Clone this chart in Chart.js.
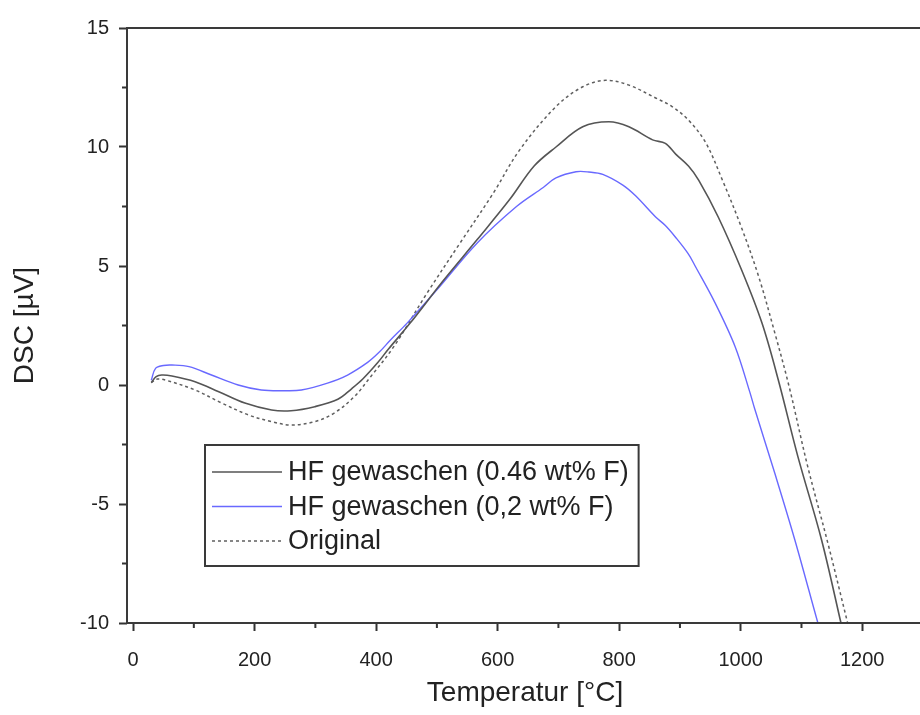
<!DOCTYPE html>
<html>
<head>
<meta charset="utf-8">
<script src="https://cdn.jsdelivr.net/npm/chart.js@4.4.1/dist/chart.umd.min.js"></script>
<style>
html, body { margin: 0; padding: 0; background: #fff; overflow: hidden; }
#wrap { width: 940px; height: 715px; }
</style>
</head>
<body>
<div id="wrap"><canvas id="myChart" width="940" height="715"></canvas></div>
<script>
// temperatures (°C) and DSC signal (µV)
let tBlack = [30, 38, 47, 64, 102, 141, 184, 228, 260, 299, 337, 360, 378, 402, 420, 456, 511, 566, 620, 660, 696, 740, 783, 816, 855, 876, 893, 914, 931, 963, 1002, 1035, 1062, 1094, 1133, 1165, 1172];
let dBlack = [0.1, 0.35, 0.42, 0.38, 0.14, -0.28, -0.76, -1.05, -1.08, -0.91, -0.6, -0.15, 0.25, 0.92, 1.5, 2.6, 4.4, 6.1, 7.8, 9.2, 10.0, 10.85, 11.06, 10.85, 10.3, 10.15, 9.7, 9.2, 8.6, 7.06, 4.8, 2.6, 0.2, -3.0, -6.5, -10, -10.8];

let tBlue = [30, 37, 50, 64, 92, 129, 173, 211, 250, 277, 320, 353, 386, 404, 424, 451, 500, 566, 631, 675, 696, 729, 750, 773, 806, 827, 860, 876, 893, 914, 925, 958, 991, 1015, 1023, 1056, 1089, 1127, 1135];
let dBlue = [0.2, 0.7, 0.82, 0.84, 0.77, 0.42, 0.0, -0.21, -0.24, -0.21, 0.08, 0.42, 0.95, 1.35, 1.9, 2.6, 4.0, 5.96, 7.5, 8.3, 8.7, 8.96, 8.95, 8.85, 8.4, 7.95, 7.06, 6.7, 6.2, 5.5, 5.0, 3.44, 1.6, -0.3, -1.0, -3.7, -6.5, -10, -10.7];

let tOrig = [30, 40, 53, 102, 146, 190, 228, 260, 299, 331, 364, 391, 429, 484, 538, 593, 636, 696, 740, 778, 816, 860, 887, 914, 942, 970, 1000, 1029, 1056, 1080, 1110, 1143, 1176, 1185];
let dOrig = [0.1, 0.25, 0.21, -0.21, -0.76, -1.26, -1.54, -1.68, -1.54, -1.18, -0.49, 0.35, 1.61, 3.87, 5.96, 8.07, 9.87, 11.7, 12.53, 12.8, 12.6, 12.06, 11.7, 11.13, 10.2, 8.6, 6.7, 4.6, 2.2, -0.1, -3.4, -6.6, -10, -10.9];

let seriesNames = ["HF gewaschen (0.46 wt% F)", "HF gewaschen (0,2 wt% F)", "Original"];

let xTicks = [0, 100, 200, 300, 400, 500, 600, 700, 800, 900, 1000, 1100, 1200, 1300];
let yTicks = [-10, -7.5, -5, -2.5, 0, 2.5, 5, 7.5, 10, 12.5, 15];

var fontFam = "'Liberation Sans', Arial, sans-serif";
var axisColor = "#333";

function toPoints(xs, ys) {
  let pts = [];
  for (var i = 0; i < xs.length; i++) {
    pts.push({ x: xs[i], y: ys[i] });
  }
  return pts;
}

function isMajorX(v) { return v % 200 == 0; }
function isMajorY(v) { return v % 5 == 0; }

// frame round the plot area + short minor ticks
var framePlugin = {
  id: "frame",
  afterDatasetsDraw(chart) {
    let a = chart.chartArea;
    let c = chart.ctx;
    c.save();
    c.strokeStyle = "#3a3a3a";
    c.lineWidth = 2;
    c.strokeRect(a.left, a.top, a.right - a.left, a.bottom - a.top);
    c.strokeStyle = axisColor;
    c.beginPath();
    xTicks.filter(v => !isMajorX(v)).forEach(v => {
      let px = chart.scales.x.getPixelForValue(v);
      c.moveTo(px, a.bottom);
      c.lineTo(px, a.bottom + 5);
    });
    yTicks.filter(v => !isMajorY(v)).forEach(v => {
      let py = chart.scales.y.getPixelForValue(v);
      c.moveTo(a.left, py);
      c.lineTo(a.left - 5, py);
    });
    c.stroke();
    c.restore();
  }
};

// boxed legend inside the plot, like the Origin one
var legendBox = {
  id: "legendBox",
  afterDraw(chart) {
    let c = chart.ctx;
    let sets = chart.data.datasets;
    let left = 205, top = 445, rowH = 34.5, firstRow = 472;
    let lineX0 = 212, lineX1 = 282, textX = 288;
    c.save();
    c.font = "27px " + fontFam;
    let maxW = 0;
    sets.forEach(d => { maxW = Math.max(maxW, c.measureText(d.label).width); });
    let w = textX - left + maxW + 10;
    let h = 121;
    c.fillStyle = "#fff";
    c.fillRect(left, top, w, h);
    c.strokeStyle = "#3a3a3a";
    c.lineWidth = 2;
    c.strokeRect(left, top, w, h);
    sets.forEach((d, i) => {
      let y = firstRow + i * rowH;
      c.beginPath();
      c.setLineDash(d.borderDash || []);
      c.strokeStyle = d.borderColor;
      c.lineWidth = d.borderWidth;
      c.moveTo(lineX0, y);
      c.lineTo(lineX1, y);
      c.stroke();
      c.setLineDash([]);
      c.fillStyle = "#222";
      c.textBaseline = "middle";
      c.fillText(d.label, textX, y + 1);
    });
    c.restore();
  }
};

var ctx = document.getElementById("myChart").getContext("2d");

var chart = new Chart(ctx, {
  type: "line",
  data: {
    datasets: [
      {
        label: seriesNames[0],
        data: toPoints(tBlack, dBlack),
        borderColor: "rgb(85, 85, 85)",
        borderWidth: 1.6,
        pointRadius: 0,
        tension: 0.35,
        fill: false
      },
      {
        label: seriesNames[1],
        data: toPoints(tBlue, dBlue),
        borderColor: "rgb(105, 105, 255)",
        borderWidth: 1.4,
        pointRadius: 0,
        tension: 0.35,
        fill: false
      },
      {
        label: seriesNames[2],
        data: toPoints(tOrig, dOrig),
        borderColor: "rgb(95, 95, 95)",
        borderWidth: 1.5,
        borderDash: [3, 3],
        pointRadius: 0,
        tension: 0.35,
        fill: false
      }
    ]
  },
  options: {
    responsive: false,
    animation: false,
    layout: { padding: { top: 28, right: 10, left: 0, bottom: 0 } },
    plugins: {
      legend: { display: false },
      tooltip: { enabled: false }
    },
    scales: {
      x: {
        type: "linear",
        min: -10,
        max: 1300,
        afterBuildTicks: s => { s.ticks = xTicks.map(v => ({ value: v })); },
        afterFit: s => { s.height = 92; },
        border: { display: false },
        grid: {
          drawOnChartArea: false,
          tickLength: 8,
          tickWidth: 2,
          tickColor: c => isMajorX(c.tick.value) ? axisColor : "rgba(0,0,0,0)"
        },
        ticks: {
          autoSkip: false,
          maxRotation: 0,
          padding: 17,
          color: "#222",
          font: { family: fontFam, size: 20 },
          callback: v => (isMajorX(v) && v <= 1200) ? v : ""
        },
        title: {
          display: true,
          text: "Temperatur [°C]",
          color: "#222",
          font: { family: fontFam, size: 28 },
          padding: { top: 5, bottom: 5 }
        }
      },
      y: {
        type: "linear",
        min: -10,
        max: 15,
        afterBuildTicks: s => { s.ticks = yTicks.map(v => ({ value: v })); },
        afterFit: s => { s.width = 127; },
        border: { display: false },
        grid: {
          drawOnChartArea: false,
          tickLength: 8,
          tickWidth: 2,
          tickColor: c => isMajorY(c.tick.value) ? axisColor : "rgba(0,0,0,0)"
        },
        ticks: {
          autoSkip: false,
          padding: 10,
          color: "#222",
          font: { family: fontFam, size: 20 },
          callback: v => isMajorY(v) ? v : ""
        },
        title: {
          display: true,
          text: "DSC [µV]",
          color: "#222",
          font: { family: fontFam, size: 28 },
          padding: { top: 8, bottom: 8 }
        }
      }
    }
  },
  plugins: [framePlugin, legendBox]
});
</script>
</body>
</html>
